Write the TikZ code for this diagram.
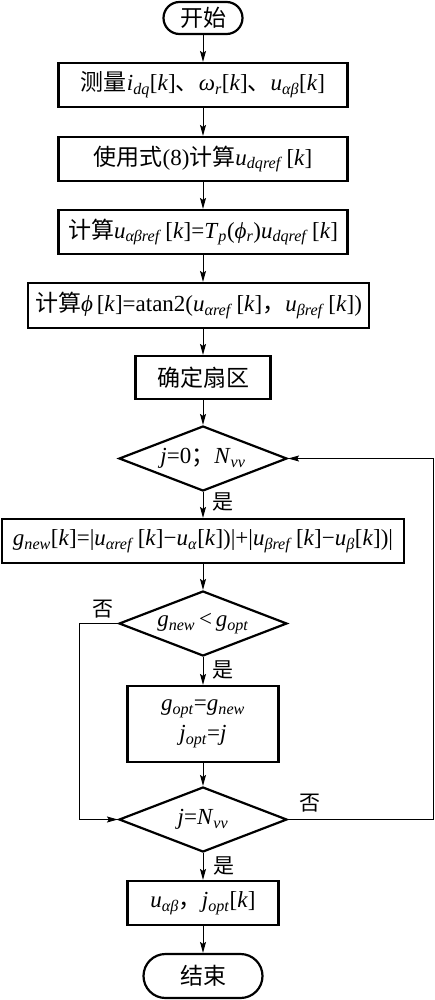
\documentclass[tikz,border=0pt]{standalone}
\usepackage{fontspec}
\setmainfont{Liberation Serif}
\newfontfamily\cjk{Noto Sans CJK SC}
\newcommand\vi[1]{\textit{#1}}
\newcommand\sbs[1]{\textsubscript{\textit{#1}}}
\newcommand\kk{[\textit{k}]}
\usetikzlibrary{shapes.geometric,arrows.meta}
\begin{document}
\begin{tikzpicture}[x=1pt,y=-1pt,
  font=\fontsize{23}{27}\selectfont,
  box/.style={draw,line width=2.2pt,rectangle,inner sep=0pt,align=center},
  term/.style={box,rounded corners=16pt},
  dec/.style={draw,line width=2.2pt,diamond,inner sep=0pt,aspect=2.6},
  arr/.style={line width=1pt,-{Stealth[length=11pt,width=6pt,inset=2pt]}},
  lab/.style={inner sep=0pt,font=\fontsize{21}{24}\selectfont}]
\useasboundingbox (0,0) rectangle (435,1000);
\node[term,minimum width=79pt,minimum height=32pt] (st) at (203,18) {\cjk 开始};
\node[box,minimum width=289pt,minimum height=44pt] (b1) at (203,85) {{\cjk 测量}\vi{i}\sbs{dq}\kk{\cjk 、}\vi{ω}\sbs{r}\kk{\cjk 、}\vi{u}\sbs{αβ}\kk};
\node[box,minimum width=289pt,minimum height=44pt] (b2) at (203,159) {{\cjk 使用式}(8){\cjk 计算}\vi{u}\sbs{dqref}\,\kk};
\node[box,minimum width=289pt,minimum height=44pt] (b3) at (203,232) {{\cjk 计算}\vi{u}\sbs{αβref}\,\kk=\vi{T}\sbs{p}(\vi{ϕ}\sbs{r})\vi{u}\sbs{dqref}\,\kk};
\node[box,minimum width=341pt,minimum height=45pt] (b4) at (198.5,305.5) {{\cjk 计算}\vi{ϕ}\,\kk=atan2(\vi{u}\sbs{αref}\,\kk{\cjk ，}\vi{u}\sbs{βref}\,\kk)};
\node[box,minimum width=135pt,minimum height=43pt] (b5) at (203,377.5) {\cjk 确定扇区};
\node[dec,minimum width=168pt,minimum height=65pt] (d1) at (203,458.5) {\vi{j}=0{\cjk ；}\vi{N}\sbs{vv}};
\node[box,minimum width=402pt,minimum height=44pt] (b6) at (203,541) {\vi{g}\sbs{new}\kk=|\vi{u}\sbs{αref}\,\kk−\vi{u}\sbs{α}\kk)|+|\vi{u}\sbs{βref}\,\kk−\vi{u}\sbs{β}\kk)|};
\node[dec,minimum width=168pt,minimum height=65pt] (d2) at (203,623.5) {\vi{g}\sbs{new}\,<\,\vi{g}\sbs{opt}};
\node[box,minimum width=151pt,minimum height=76pt,font=\fontsize{23}{30}\selectfont] (b7) at (203,724) {\vi{g}\sbs{opt}=\vi{g}\sbs{new}\\\vi{j}\sbs{opt}=\vi{j}};
\node[dec,minimum width=168pt,minimum height=65pt] (d3) at (203,819.5) {\vi{j}=\vi{N}\sbs{vv}};
\node[box,minimum width=151pt,minimum height=44pt] (b8) at (203,903) {\vi{u}\sbs{αβ}{\cjk ，}\vi{j}\sbs{opt}\kk};
\node[term,rounded corners=22pt,minimum width=119pt,minimum height=44pt] (en) at (203,976) {\cjk 结束};
\draw[arr] (st) -- (b1);
\draw[arr] (b1) -- (b2);
\draw[arr] (b2) -- (b3);
\draw[arr] (b3.south) -- (b3.south |- b4.north);
\draw[arr] (b3.south |- b4.south) -- (b5);
\draw[arr] (b5) -- (d1);
\draw[arr] (d1) -- (b6);
\draw[arr] (b6) -- (d2);
\draw[arr] (d2) -- (b7);
\draw[arr] (b7) -- (d3);
\draw[arr] (d3) -- (b8);
\draw[arr] (b8) -- (en);
\coordinate (lc) at (79,623.5);
\coordinate (rc) at (433.5,819.5);
\draw[arr] (d2.west) -- (lc) |- (d3.west);
\draw[arr] (d3.east) -- (rc) |- (d1.east);
\node[lab] (y1) at (223,502) {\cjk 是};
\node[lab] (y2) at (223,670) {\cjk 是};
\node[lab] (y3) at (224,866) {\cjk 是};
\node[lab] (n1) at (103,609) {\cjk 否};
\node[lab] (n2) at (310,803) {\cjk 否};
\end{tikzpicture}
\end{document}
